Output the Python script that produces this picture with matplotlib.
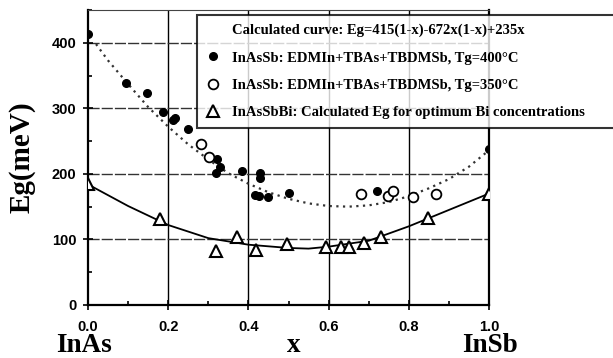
import matplotlib
matplotlib.use("Agg")
import matplotlib.pyplot as plt
from matplotlib.lines import Line2D
from matplotlib.ticker import MultipleLocator

# ---- data ----
x_400 = [0.0, 0.094, 0.148, 0.186, 0.213, 0.218, 0.249, 0.319, 0.321, 0.329,
         0.384, 0.416, 0.426, 0.429, 0.430, 0.450, 0.500, 0.720, 1.0]
y_400 = [414, 338, 323, 295, 282, 285, 269, 201, 223, 211,
         204, 168, 166, 193, 202, 164, 171, 174, 238]

x_350 = [0.281, 0.302, 0.682, 0.749, 0.761, 0.810, 0.867]
y_350 = [245, 226, 170, 166, 174, 164, 170]

x_bi = [0.0, 0.18, 0.32, 0.371, 0.42, 0.497, 0.593, 0.63, 0.652, 0.689, 0.73, 0.849, 1.0]
y_bi = [184, 131, 82, 104, 84, 93, 88, 89, 89, 95, 103, 133, 169]

# calculated curve Eg=415(1-x)-672x(1-x)+235x
x_calc = [0.02, 0.05, 0.1, 0.15, 0.2, 0.25, 0.3, 0.35, 0.4, 0.45, 0.5,
          0.55, 0.6, 0.65, 0.7, 0.75, 0.8, 0.85, 0.9, 0.95, 1.0]
y_calc = [398, 373, 337, 302, 272, 245, 222, 201, 185, 172, 162,
          155, 151, 150, 152, 157, 166, 178, 192, 211, 236]

# solid curve through the InAsSbBi points
x_bi_curve = [0.0, 0.1, 0.2, 0.3, 0.4, 0.5, 0.55, 0.6, 0.7, 0.8, 0.9, 1.0]
y_bi_curve = [184, 151, 122, 102, 92, 87, 86, 89, 98, 120, 145, 170]

x_ticks = [0.0, 0.2, 0.4, 0.6, 0.8, 1.0]
x_ticklabels = ["0.0", "0.2", "0.4", "0.6", "0.8", "1.0"]
y_ticks = [0, 100, 200, 300, 400]

legend_labels = [
    "Calculated curve: Eg=415(1-x)-672x(1-x)+235x",
    "InAsSb: EDMIn+TBAs+TBDMSb, Tg=400\u00b0C",
    "InAsSb: EDMIn+TBAs+TBDMSb, Tg=350\u00b0C",
    "InAsSbBi: Calculated Eg for optimum Bi concentrations",
]

W, H = 613, 358
fig = plt.figure(figsize=(W / 100, H / 100), dpi=100)
ax = fig.add_axes([88 / W, 1 - 305 / H, (489 - 88) / W, (305 - 10) / H])

ax.set_xlim(0, 1.0)
ax.set_ylim(0, 450)

# grid
for xv in [0.2, 0.4, 0.6, 0.8]:
    ax.axvline(xv, color="black", lw=1.0, zorder=1)
for yv in [100, 200, 300, 400]:
    ax.axhline(yv, color="#333333", lw=1.0, ls=(0, (8, 1.5)), zorder=1)

ax.plot(x_calc, y_calc, ls=(0, (1, 2.0)), color="#333333", lw=1.6, zorder=2)
ax.plot(x_bi_curve, y_bi_curve, ls="-", color="black", lw=1.3, zorder=2)

ax.plot(x_400, y_400, ls="none", marker="o", ms=5.5, mfc="black", mec="black", zorder=3)
ax.plot(x_350, y_350, ls="none", marker="o", ms=7, mfc="white", mec="black", mew=1.3, zorder=3)
ax.plot(x_bi, y_bi, ls="none", marker="^", ms=8, mfc="white", mec="black", mew=1.5, zorder=3)

for s in ["left", "bottom", "right"]:
    ax.spines[s].set_linewidth(1.6)
ax.spines["top"].set_linewidth(0.8)
ax.spines["top"].set_color("#444444")

ax.set_xticks(x_ticks)
ax.set_xticklabels(x_ticklabels)
ax.set_yticks(y_ticks)
ax.xaxis.set_minor_locator(MultipleLocator(0.1))
ax.yaxis.set_minor_locator(MultipleLocator(50))
ax.tick_params(axis="both", which="major", direction="inout", length=7, width=1.2,
               labelsize=10.5, pad=5)
ax.tick_params(axis="both", which="minor", direction="in", length=3, width=1.2)
ax.tick_params(axis="x", which="major", pad=7)
for lab in ax.get_xticklabels() + ax.get_yticklabels():
    lab.set_fontfamily("Liberation Sans")
    lab.set_fontweight("bold")

# legend
handles = [
    Line2D([], [], ls="none", marker=None),
    Line2D([], [], ls="none", marker="o", ms=5.5, mfc="black", mec="black"),
    Line2D([], [], ls="none", marker="o", ms=7, mfc="white", mec="black", mew=1.3),
    Line2D([], [], ls="none", marker="^", ms=8, mfc="white", mec="black", mew=1.5),
]
leg = fig.legend(handles, legend_labels, loc="upper left",
                 bbox_to_anchor=(197 / W, 1 - 15 / H, (625 - 197) / W, 0.0),
                 mode="expand", frameon=True, fancybox=False, borderaxespad=0,
                 handlelength=1.0, handletextpad=0.8, labelspacing=0.97,
                 borderpad=0.6,
                 prop={"family": "Liberation Serif", "size": 10.5, "weight": "bold"})
leg.get_frame().set_edgecolor("black")
leg.get_frame().set_linewidth(1.5)
leg.set_zorder(5)

# axis labels
serif = {"family": "Liberation Serif", "weight": "bold", "size": 19.5}
fig.text(84 / W, 1 - 352 / H, "InAs", ha="center", va="baseline", **serif)
fig.text(294 / W, 1 - 352 / H, "x", ha="center", va="baseline", **serif)
fig.text(490 / W, 1 - 352 / H, "InSb", ha="center", va="baseline", **serif)
fig.text(22 / W, 1 - 157 / H, "Eg(meV)", ha="center", va="center", rotation=90,
         family="Liberation Serif", weight="bold", size=21)

fig.savefig("out.png", dpi=100)
